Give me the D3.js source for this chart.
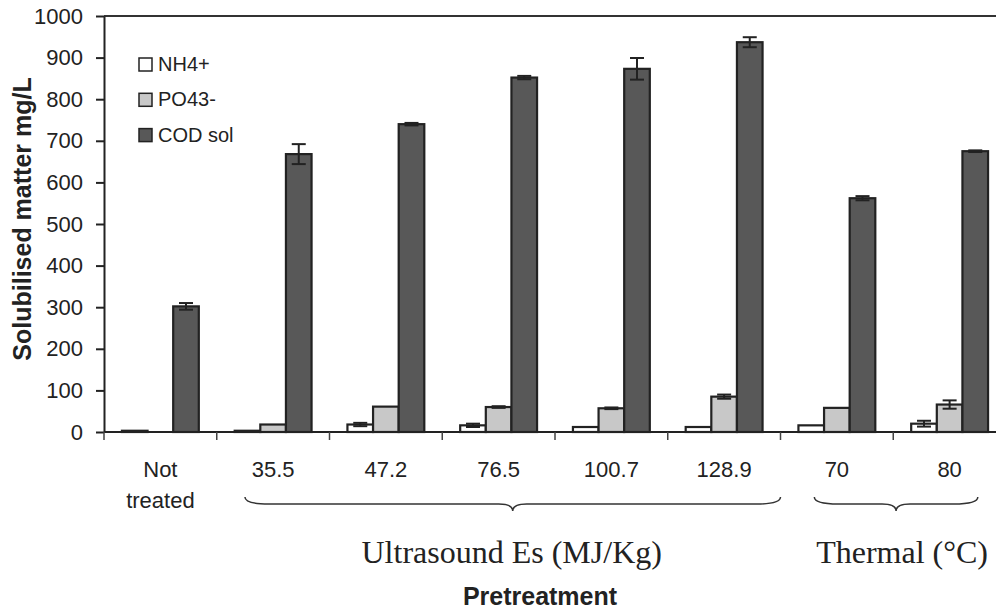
<!DOCTYPE html>
<html>
<head>
<meta charset="utf-8">
<script src="https://cdn.jsdelivr.net/npm/d3@7"></script>
<style>
  body { margin: 0; background: #fff; }
  svg { display: block; }
</style>
</head>
<body>
<div id="chart"></div>
<script>
// data
const categories = ["Not treated", "35.5", "47.2", "76.5", "100.7", "128.9", "70", "80"];
const series = ["NH4+", "PO43-", "COD sol"];
const nh4 = [3, 3, 18, 16, 12, 12, 16, 20];
const nh4Err = [0, 0, 4, 4, 0, 0, 0, 7];
const po4 = [0, 18, 61, 60, 57, 85, 58, 66];
const po4Err = [0, 0, 0, 2, 2, 5, 0, 10];
const cod = [302, 668, 740, 852, 873, 937, 562, 675];
const codErr = [8, 24, 3, 4, 26, 12, 5, 2];
const yTicks = [0, 100, 200, 300, 400, 500, 600, 700, 800, 900, 1000];
const groups = [
  { label: "Ultrasound Es (MJ/Kg)", from: "35.5", to: "128.9" },
  { label: "Thermal (\u00B0C)", from: "70", to: "80" }
];

const colors = { "NH4+": "#ffffff", "PO43-": "#c8c8c8", "COD sol": "#585858" };
const values = { "NH4+": nh4, "PO43-": po4, "COD sol": cod };
const errors = { "NH4+": nh4Err, "PO43-": po4Err, "COD sol": codErr };

const svgWidth = 996;
const svgHeight = 610;
const margin = { top: 16, left: 104, bottom: 178 };
const plotRight = 1006; // the frame runs past the picture edge

const svg = d3.select("#chart").append("svg")
  .attr("width", svgWidth)
  .attr("height", svgHeight);

const x0 = d3.scaleBand(categories, [margin.left, plotRight]).paddingInner(0).paddingOuter(0);
const x1 = d3.scaleBand(series, [0, x0.bandwidth()]).paddingInner(0).paddingOuter(0.7);
const y = d3.scaleLinear([0, 1000], [svgHeight - margin.bottom, margin.top]);

const ink = "#222";

// frame top line
svg.append("line")
  .attr("x1", margin.left).attr("x2", plotRight)
  .attr("y1", y(1000)).attr("y2", y(1000))
  .attr("stroke", "#333").attr("stroke-width", 2);

// bars
const rows = categories.map((c, i) => series.map(s => ({
  cat: c, s: s, v: values[s][i], e: errors[s][i]
})));

const g = svg.append("g");
rows.forEach(r => {
  const grp = g.append("g").attr("transform", `translate(${x0(r[0].cat)},0)`);
  grp.selectAll("rect")
    .data(r.filter(d => d.v > 0))
    .enter()
    .append("rect")
    .attr("x", d => x1(d.s))
    .attr("y", d => y(d.v))
    .attr("width", x1.bandwidth())
    .attr("height", d => y(0) - y(d.v))
    .attr("fill", d => colors[d.s])
    .attr("stroke", ink)
    .attr("stroke-width", 2.2);

  // error bars
  const eb = grp.selectAll(".err")
    .data(r.filter(d => d.e > 0))
    .enter()
    .append("g")
    .attr("class", "err")
    .attr("stroke", ink)
    .attr("stroke-width", 2);
  eb.append("line")
    .attr("x1", d => x1(d.s) + x1.bandwidth() / 2)
    .attr("x2", d => x1(d.s) + x1.bandwidth() / 2)
    .attr("y1", d => y(d.v + d.e))
    .attr("y2", d => y(d.v - d.e));
  [1, -1].forEach(sign => {
    eb.append("line")
      .attr("x1", d => x1(d.s) + x1.bandwidth() / 2 - 7)
      .attr("x2", d => x1(d.s) + x1.bandwidth() / 2 + 7)
      .attr("y1", d => y(d.v + sign * d.e))
      .attr("y2", d => y(d.v + sign * d.e));
  });
});

// y axis
const yAxis = svg.append("g")
  .attr("transform", `translate(${margin.left},0)`)
  .call(d3.axisLeft(y).tickValues(yTicks).tickFormat(d3.format("d"))
    .tickSize(8).tickPadding(13).tickSizeOuter(0));
yAxis.select(".domain").attr("stroke", ink).attr("stroke-width", 2);
yAxis.selectAll(".tick line").attr("stroke", ink).attr("stroke-width", 2);
yAxis.selectAll(".tick text")
  .attr("fill", ink)
  .style("font-family", "Liberation Sans, Arial, sans-serif")
  .style("font-size", "22px");

// x axis: baseline + ticks at category boundaries
svg.append("line")
  .attr("x1", margin.left).attr("x2", plotRight)
  .attr("y1", y(0)).attr("y2", y(0))
  .attr("stroke", ink).attr("stroke-width", 2);
svg.selectAll(".xtick")
  .data(categories)
  .enter()
  .append("line")
  .attr("class", "xtick")
  .attr("x1", d => x0(d)).attr("x2", d => x0(d))
  .attr("y1", y(0)).attr("y2", y(0) + 8)
  .attr("stroke", "#444").attr("stroke-width", 1.5);

// category labels
const catText = svg.selectAll(".cat")
  .data(categories)
  .enter()
  .append("text")
  .attr("class", "cat")
  .attr("text-anchor", "middle")
  .attr("fill", ink)
  .style("font-family", "Liberation Sans, Arial, sans-serif")
  .style("font-size", "22px");
catText.each(function(d) {
  const parts = d === "Not treated" ? ["Not", "treated"] : [d];
  const t = d3.select(this);
  parts.forEach((p, i) => {
    t.append("tspan")
      .attr("x", x0(d) + x0.bandwidth() / 2)
      .attr("y", 477 + i * 31)
      .text(p);
  });
});

// braces under the groups
function bracePath(xa, xb, top) {
  const mid = (xa + xb) / 2;
  const flat = top + 7;
  const tip = top + 14;
  return `M${xa},${top} Q${xa},${flat} ${xa + 24},${flat} L${mid - 14},${flat}` +
    ` Q${mid},${flat} ${mid},${tip} Q${mid},${flat} ${mid + 14},${flat}` +
    ` L${xb - 24},${flat} Q${xb},${flat} ${xb},${top}`;
}
const braceSpans = [[0.25, 1.0], [0.3, 0.75]];
groups.forEach((gr, i) => {
  const xa = x0(gr.from) + x0.bandwidth() * braceSpans[i][0];
  const xb = x0(gr.to) + x0.bandwidth() * braceSpans[i][1];
  svg.append("path")
    .attr("d", bracePath(xa, xb, 497))
    .attr("fill", "none")
    .attr("stroke", "#333")
    .attr("stroke-width", 1.5);
  svg.append("text")
    .attr("x", (xa + xb) / 2 + (i === 0 ? -1 : 6))
    .attr("y", 563)
    .attr("text-anchor", "middle")
    .attr("fill", ink)
    .style("font-family", "Liberation Serif, Times New Roman, serif")
    .style("font-size", "32px")
    .text(gr.label);
});

// axis titles
svg.append("text")
  .attr("transform", "rotate(-90)")
  .attr("x", -219)
  .attr("y", 31)
  .attr("text-anchor", "middle")
  .attr("fill", ink)
  .style("font-family", "Liberation Sans, Arial, sans-serif")
  .style("font-weight", "bold")
  .style("font-size", "25px")
  .text("Solubilised matter mg/L");

svg.append("text")
  .attr("x", 540)
  .attr("y", 605)
  .attr("text-anchor", "middle")
  .attr("fill", ink)
  .style("font-family", "Liberation Sans, Arial, sans-serif")
  .style("font-weight", "bold")
  .style("font-size", "25px")
  .text("Pretreatment");

// legend
const legend = svg.append("g").attr("transform", "translate(139,58)");
series.forEach((s, i) => {
  const row = legend.append("g").attr("transform", `translate(0,${i * 35.3})`);
  row.append("rect")
    .attr("width", 13).attr("height", 13)
    .attr("fill", colors[s])
    .attr("stroke", ink)
    .attr("stroke-width", 1.5);
  row.append("text")
    .attr("x", 19)
    .attr("y", 13)
    .attr("fill", ink)
    .style("font-family", "Liberation Sans, Arial, sans-serif")
    .style("font-size", "20px")
    .text(s);
});
</script>
</body>
</html>
